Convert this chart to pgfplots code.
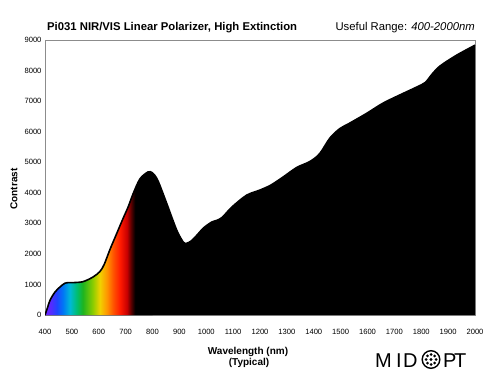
\documentclass[border=0pt]{standalone}
\usepackage{fontspec}
\setmainfont{Liberation Sans}
\usepackage{pgfplots}
\pgfplotsset{compat=1.18}
\definecolor{c1}{RGB}{110,40,255}
\definecolor{c2}{RGB}{90,40,255}
\definecolor{c3}{RGB}{30,70,255}
\definecolor{c4}{RGB}{0,120,245}
\definecolor{c5}{RGB}{0,185,215}
\definecolor{c6}{RGB}{0,190,110}
\definecolor{c7}{RGB}{30,180,30}
\definecolor{c8}{RGB}{140,205,0}
\definecolor{c9}{RGB}{240,210,0}
\definecolor{c10}{RGB}{255,150,0}
\definecolor{c11}{RGB}{255,80,0}
\definecolor{c12}{RGB}{255,25,0}
\definecolor{c13}{RGB}{200,0,0}
\definecolor{c14}{RGB}{90,0,0}
\definecolor{axgray}{RGB}{140,140,140}
\pgfdeclarehorizontalshading{rainbow}{100bp}{color(0bp)=(c1); color(25bp)=(c1); color(27.4bp)=(c2); color(30.6bp)=(c3); color(33.4bp)=(c4); color(36.6bp)=(c5); color(39.9bp)=(c6); color(42.6bp)=(c7); color(47.25bp)=(c8); color(50.5bp)=(c9); color(53.75bp)=(c10); color(56.9bp)=(c11); color(60bp)=(c12); color(63.1bp)=(c13); color(65bp)=(c14); color(66.9bp)=(black); color(100bp)=(black)}
\pgfplotstableread{
x y
400 0
410 260
419 490
437 750
456 920
474 1040
490 1060
504 1060
541 1090
578 1240
604 1420
620 1650
642 2150
666 2650
690 3150
710 3550
727 3950
753 4450
783 4680
800 4650
820 4400
853 3650
890 2780
915 2380
928 2350
945 2430
965 2610
990 2850
1020 3040
1040 3100
1060 3200
1095 3530
1150 3920
1200 4090
1240 4250
1285 4510
1337 4830
1385 5020
1422 5280
1460 5790
1497 6100
1534 6280
1597 6600
1657 6930
1720 7200
1783 7460
1815 7610
1840 7880
1870 8150
1931 8500
2000 8830
}\curve
\pgfplotstableread{
x y
400 0
410 260
419 490
437 750
456 920
474 1040
490 1060
504 1060
541 1090
578 1240
604 1420
620 1650
642 2150
666 2650
690 3150
710 3550
727 3950
753 4450
783 4680
800 4650
}\visible
\begin{document}
\begin{tikzpicture}
\useasboundingbox (0pt,0pt) rectangle (500pt,388pt);
\begin{axis}[
  at={(45pt,73pt)}, anchor=south west,
  width=430pt, height=275pt, scale only axis,
  xmin=400, xmax=2000, ymin=0, ymax=9000,
  xtick={400,500,...,2000}, ytick={0,1000,...,9000},
  major tick length=0pt,
  axis line style={draw=axgray, line width=0.8pt},
  tick label style={font=\fontsize{7.6}{9}\selectfont},
  /pgf/number format/assume math mode=true,
  /pgf/number format/set thousands separator={},
  x tick label style={yshift=-10.5pt},
]
\addplot[fill=black, draw=none, smooth] table {\curve} \closedcycle;
\addplot[shading=rainbow, draw=none, smooth] table {\visible} \closedcycle;
\addplot[black, line width=1.6pt, smooth] table {\curve};
\end{axis}
\node[anchor=base west, font=\bfseries\fontsize{11.3}{13}\selectfont, inner sep=0pt] at (47pt,357pt) {Pi031 NIR/VIS Linear Polarizer, High Extinction};
\node[anchor=base east, font=\fontsize{11.3}{13}\selectfont, inner sep=0pt] at (475pt,357pt) {Useful Range: \textit{400-2000nm}};
\node[anchor=base, font=\bfseries\fontsize{10}{12}\selectfont, inner sep=0pt] at (248pt,34pt) {Wavelength (nm)};
\node[anchor=base, font=\bfseries\fontsize{10}{12}\selectfont, inner sep=0pt] at (249pt,23pt) {(Typical)};
\node[rotate=90, font=\bfseries\fontsize{10}{12}\selectfont, inner sep=0pt] at (14pt,199pt) {Contrast};
% logo
\begin{scope}[every node/.style={anchor=base west, inner sep=0pt, font=\fontsize{20}{22}\selectfont}]
\node at (375pt,21pt) {M};
\node at (396pt,21pt) {I};
\node at (403pt,21pt) {D};
\node at (443pt,21pt) {P};
\node at (454pt,21pt) {T};
\end{scope}
\begin{scope}[shift={(431pt,28.5pt)}]
\draw[line width=1.4pt] (0,0) circle (8.8pt);
\fill (0,0) circle (1.7pt);
\foreach \a in {0,45,...,315} {\fill (\a:5pt) circle (1.5pt);}
\end{scope}
\end{tikzpicture}
\end{document}
